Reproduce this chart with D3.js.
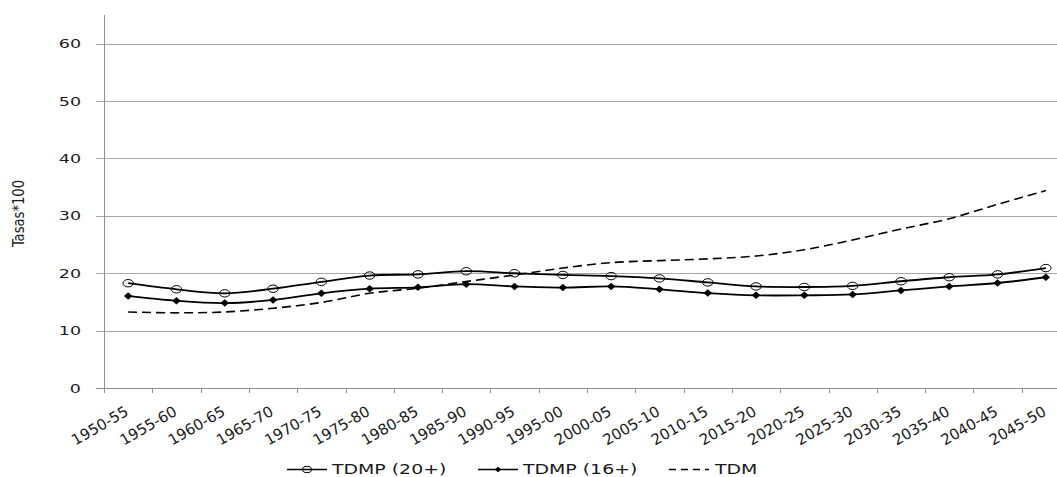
<!DOCTYPE html>
<html>
<head>
<meta charset="utf-8">
<script src="https://cdn.jsdelivr.net/npm/d3@7"></script>
<style>
  html, body { margin: 0; padding: 0; background: #fff; overflow: hidden; }
  svg { display: block; }
</style>
</head>
<body>
<svg id="chart" width="1057" height="477"></svg>
<script>
const categories = ["1950-55","1955-60","1960-65","1965-70","1970-75","1975-80","1980-85","1985-90","1990-95","1995-00",
  "2000-05","2005-10","2010-15","2015-20","2020-25","2025-30","2030-35","2035-40","2040-45","2045-50"];
const tdmp20 = [18.26,17.2,16.5,17.3,18.5,19.6,19.8,20.35,20.0,19.7,19.5,19.1,18.4,17.7,17.6,17.8,18.6,19.3,19.8,20.9];
const tdmp16 = [16.05,15.2,14.8,15.35,16.5,17.3,17.55,18.1,17.7,17.5,17.7,17.2,16.55,16.15,16.15,16.3,17.0,17.7,18.3,19.3];
const tdm = [13.25,13.1,13.25,13.9,14.9,16.5,17.4,18.55,19.7,20.9,21.85,22.2,22.5,23.0,24.1,25.8,27.7,29.5,32.0,34.4];
const yTicks = [0,10,20,30,40,50,60];
const seriesNames = ["TDMP (20+)","TDMP (16+)","TDM"];
const yTitle = "Tasas*100";

const svg = d3.select("#chart");
const SX = 1.4;
const FONT = "'DejaVu Sans', Verdana, sans-serif";
const axisColor = "#8e8e8e";
const gridColor = "#a6a6a6";
const textColor = "#1a1a1a";

const x = d3.scaleBand().domain(categories).range([104, 1070]);
const y = d3.scaleLinear().domain([0, 65]).range([388, 15]);
const cx = c => x(c) + x.bandwidth() / 2;

// gridlines + y ticks
svg.append("g").selectAll("line").data(yTicks).join("line")
  .attr("x1", 96).attr("x2", 1057)
  .attr("y1", d => Math.round(y(d)) + 0.5).attr("y2", d => Math.round(y(d)) + 0.5)
  .attr("stroke", d => d === 0 ? axisColor : gridColor).attr("stroke-width", 1);

// y axis line
svg.append("line").attr("x1", 104.5).attr("x2", 104.5).attr("y1", 15).attr("y2", 393)
  .attr("stroke", axisColor);

// x ticks at category boundaries
const bounds = categories.map(c => x(c));
svg.append("g").selectAll("line").data(bounds).join("line")
  .attr("x1", d => Math.round(d) + 0.5).attr("x2", d => Math.round(d) + 0.5)
  .attr("y1", 388).attr("y2", 393).attr("stroke", axisColor);

// y tick labels
svg.append("g").selectAll("text").data(yTicks).join("text")
  .attr("transform", d => `translate(81,${y(d) + 4.5}) scale(${SX},1)`)
  .attr("text-anchor", "end")
  .attr("font-family", FONT).attr("font-size", 12.5).attr("fill", textColor)
  .text(d => d);

// x tick labels
svg.append("g").selectAll("text").data(categories).join("text")
  .attr("transform", d => `translate(${cx(d) + 1.5},${414.5}) rotate(-30)`)
  .attr("text-anchor", "end")
  .attr("font-family", FONT).attr("font-size", 15).attr("fill", textColor)
  .text(d => d);

// y title
svg.append("text")
  .attr("transform", "translate(23.5,213.5) rotate(-90)")
  .attr("text-anchor", "middle")
  .attr("font-family", "'DejaVu Sans Condensed','Liberation Sans Narrow','DejaVu Sans',sans-serif")
  .attr("font-size", 15).attr("fill", textColor)
  .attr("textLength", 67).attr("lengthAdjust", "spacingAndGlyphs")
  .text(yTitle);

const line = d3.line().x((d, i) => cx(categories[i])).y(d => y(d)).curve(d3.curveCatmullRom.alpha(0.5));

// TDM dashed
svg.append("path").datum(tdm).attr("d", line)
  .attr("fill", "none").attr("stroke", "#000").attr("stroke-width", 1.6)
  .attr("stroke-dasharray", "9,5");

// TDMP 16+
svg.append("path").datum(tdmp16).attr("d", line)
  .attr("fill", "none").attr("stroke", "#000").attr("stroke-width", 1.8);
const diamond = (w, h) => `M0,${-h/2} L${w/2},0 L0,${h/2} L${-w/2},0 Z`;
svg.append("g").selectAll("path").data(tdmp16).join("path")
  .attr("transform", (d, i) => `translate(${cx(categories[i])},${y(d)})`)
  .attr("d", diamond(8.5, 7.5)).attr("fill", "#000");

// TDMP 20+
svg.append("path").datum(tdmp20).attr("d", line)
  .attr("fill", "none").attr("stroke", "#000").attr("stroke-width", 1.8);
svg.append("g").selectAll("ellipse").data(tdmp20).join("ellipse")
  .attr("cx", (d, i) => cx(categories[i])).attr("cy", d => y(d))
  .attr("rx", 5.2).attr("ry", 3.7)
  .attr("fill", "none").attr("stroke", "#000").attr("stroke-width", 1);

// legend
const legend = svg.append("g");
const legItems = [
  { name: seriesNames[0], x0: 287, x1: 327, tx: 332, marker: "circle", dash: null },
  { name: seriesNames[1], x0: 478, x1: 518, tx: 523, marker: "diamond", dash: null },
  { name: seriesNames[2], x0: 669, x1: 709, tx: 715, marker: null, dash: "7,5" }
];
const ly = 469.5;
legItems.forEach(it => {
  legend.append("line").attr("x1", it.x0).attr("x2", it.x1).attr("y1", ly).attr("y2", ly)
    .attr("stroke", "#000").attr("stroke-width", 1.6)
    .attr("stroke-dasharray", it.dash);
  const mx = (it.x0 + it.x1) / 2;
  if (it.marker === "circle") {
    legend.append("ellipse").attr("cx", mx).attr("cy", ly).attr("rx", 4.5).attr("ry", 3.2)
      .attr("fill", "none").attr("stroke", "#000").attr("stroke-width", 1);
  } else if (it.marker === "diamond") {
    legend.append("path").attr("transform", `translate(${mx},${ly})`).attr("d", diamond(6.5, 5.5)).attr("fill", "#000");
  }
  legend.append("text")
    .attr("transform", `translate(${it.tx},${474.2}) scale(${SX},1)`)
    .attr("font-family", FONT).attr("font-size", 13.5).attr("fill", textColor)
    .text(it.name);
});
</script>
</body>
</html>
